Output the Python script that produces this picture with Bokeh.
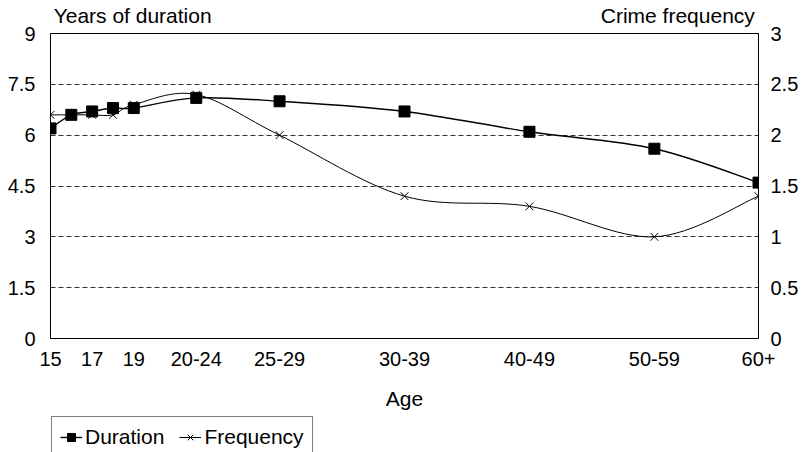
from bokeh.plotting import figure
from bokeh.layouts import column
from bokeh.models import Range1d, LinearAxis, FixedTicker, Legend, LegendItem
from bokeh.embed import file_html
from bokeh.resources import INLINE

# Age groups and their position along the (unevenly spaced) age axis
age_labels = ["15", "16", "17", "18", "19", "20-24", "25-29", "30-39", "40-49", "50-59", "60+"]
age_pos = [0, 1, 2, 3, 4, 7, 11, 17, 23, 29, 34]
shown_age_labels = ["15", "17", "19", "20-24", "25-29", "30-39", "40-49", "50-59", "60+"]

# Series
duration = [6.2, 6.6, 6.7, 6.8, 6.8, 7.1, 7.0, 6.7, 6.1, 5.6, 4.6]      # years (left axis)
frequency = [2.2, 2.2, 2.2, 2.2, 2.3, 2.4, 2.0, 1.4, 1.3, 1.0, 1.4]     # crimes (right axis)

left_ticks = [0, 1.5, 3, 4.5, 6, 7.5, 9]
right_ticks = [0, 0.5, 1, 1.5, 2, 2.5, 3]

# Headings over the two value axes, placed as fractions of the plot width
headings = ["Years of duration", "Crime frequency"]
heading_pos = [0.116, 0.886]

FONT = "Liberation Sans"
W = 807
H_CHART = 414
H_LEGEND = 452 - H_CHART


def num_key(v):
    return int(v) if float(v).is_integer() else v


def smooth_segments(xs, ys):
    """Cubic Bezier segments through the points (Catmull-Rom style smoothing)."""
    n = len(xs)
    seg = dict(x0=[], y0=[], x1=[], y1=[], cx0=[], cy0=[], cx1=[], cy1=[])
    for i in range(n - 1):
        a = max(i - 1, 0)
        d = min(i + 2, n - 1)
        seg["x0"].append(xs[i]); seg["y0"].append(ys[i])
        seg["x1"].append(xs[i + 1]); seg["y1"].append(ys[i + 1])
        seg["cx0"].append(xs[i] + (xs[i + 1] - xs[a]) / 6)
        seg["cy0"].append(ys[i] + (ys[i + 1] - ys[a]) / 6)
        seg["cx1"].append(xs[i + 1] - (xs[d] - xs[i]) / 6)
        seg["cy1"].append(ys[i + 1] - (ys[d] - ys[i]) / 6)
    return seg


p = figure(width=W, height=H_CHART, output_backend="svg", toolbar_location=None,
           x_range=Range1d(age_pos[0], age_pos[-1]), y_range=Range1d(0, 9),
           min_border_left=50, min_border_right=49, min_border_top=32, min_border_bottom=76)
p.extra_y_ranges = {"freq": Range1d(0, 3)}
p.extra_x_ranges = {"head": Range1d(0, 1)}

p.outline_line_color = "black"
p.outline_line_width = 1
p.background_fill_color = "white"
p.border_fill_color = "white"

# Grid: dashed horizontal lines only
p.xgrid.visible = False
p.ygrid.ticker = FixedTicker(ticks=left_ticks[1:-1])
p.ygrid.grid_line_color = "#333333"
p.ygrid.grid_line_dash = "5 3"
p.ygrid.grid_line_width = 1


def style_axis(ax, standoff, size="20px"):
    ax.axis_line_color = "black"
    ax.axis_line_width = 1
    ax.major_tick_line_color = None
    ax.minor_tick_line_color = None
    ax.major_tick_in = 0
    ax.major_tick_out = 0
    ax.major_label_standoff = standoff
    ax.major_label_text_font = FONT
    ax.major_label_text_font_size = size
    ax.major_label_text_color = "black"


# Bottom axis with the "Age" title
xax = p.xaxis[0]
xax.ticker = FixedTicker(ticks=[age_pos[age_labels.index(l)] for l in shown_age_labels])
xax.major_label_overrides = {age_pos[age_labels.index(l)]: l for l in shown_age_labels}
style_axis(xax, 13)
xax.axis_label = "Age"
xax.axis_label_standoff = 18
xax.axis_label_text_font = FONT
xax.axis_label_text_font_size = "21px"
xax.axis_label_text_font_style = "normal"
xax.axis_label_text_color = "black"

# Left axis
yax = p.yaxis[0]
yax.ticker = FixedTicker(ticks=left_ticks)
yax.major_label_overrides = {num_key(v): f"{v:g}" for v in left_ticks}
style_axis(yax, 15)

# Right axis
rax = LinearAxis(y_range_name="freq", ticker=FixedTicker(ticks=right_ticks))
rax.major_label_overrides = {num_key(v): f"{v:g}" for v in right_ticks}
style_axis(rax, 12)
p.add_layout(rax, "right")

# Headings row above the plot
hax = LinearAxis(x_range_name="head", ticker=FixedTicker(ticks=heading_pos))
hax.major_label_overrides = dict(zip(heading_pos, headings))
style_axis(hax, 7, size="21px")
hax.axis_line_color = None
p.add_layout(hax, "above")

# Frequency (right axis)
fseg = smooth_segments(age_pos, frequency)
p.bezier(**fseg, line_color="black", line_width=1, y_range_name="freq")
p.scatter(age_pos, frequency, marker="x", size=11, line_color="black",
          line_width=1, y_range_name="freq")

# Duration (left axis)
dseg = smooth_segments(age_pos, duration)
p.bezier(**dseg, line_color="black", line_width=1.4)
p.scatter(age_pos, duration, marker="square", size=11, fill_color="black",
          line_color="black")

# Legend strip under the chart (its frame lines up with the chart's frame);
# same styles, renderers kept hidden
lg = figure(width=W, height=H_LEGEND, output_backend="svg", toolbar_location=None,
            x_range=Range1d(0, 1), y_range=Range1d(0, 1),
            x_axis_location=None, y_axis_location=None,
            min_border=0, outline_line_color=None)
lg.grid.visible = False
d_line = lg.line(age_pos, duration, line_color="black", line_width=1.4, visible=False)
d_pts = lg.scatter(age_pos, duration, marker="square", size=11, fill_color="black",
                   line_color="black", visible=False)
f_line = lg.line(age_pos, frequency, line_color="black", line_width=1, visible=False)
f_pts = lg.scatter(age_pos, frequency, marker="x", size=11, line_color="black",
                   line_width=1, visible=False)

legend = Legend(items=[LegendItem(label="Duration", renderers=[d_line, d_pts]),
                       LegendItem(label="Frequency", renderers=[f_line, f_pts])],
                orientation="horizontal", location=(1, -6),
                label_text_font=FONT, label_text_font_size="21px",
                label_text_color="black", glyph_width=22, glyph_height=20,
                label_standoff=3, spacing=15, padding=8, margin=0,
                border_line_color="black", border_line_width=1,
                background_fill_color="white", background_fill_alpha=1,
                inactive_fill_alpha=0, click_policy="none")
lg.add_layout(legend)

open("out.html", "w").write(file_html(column(p, lg, spacing=0), INLINE))
